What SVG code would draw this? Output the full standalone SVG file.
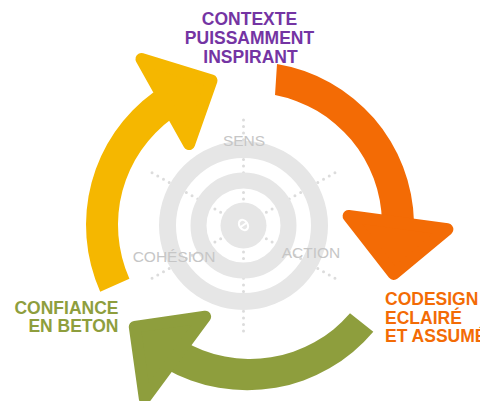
<svg xmlns="http://www.w3.org/2000/svg" width="480" height="401" viewBox="0 0 480 401">
<style>
.lbl{font-family:"Liberation Sans",Arial,sans-serif;font-weight:bold;font-size:17.5px}
.grey{font-family:"Liberation Sans",Arial,sans-serif;font-size:15.5px;fill:#c6c6c6}
.spoke{stroke:#dcdcdc;stroke-width:3;stroke-linecap:round;stroke-dasharray:0 6.6;fill:none}
.ring{fill:none;stroke:#e6e6e6}
.head{stroke-width:12;stroke-linejoin:round}
</style>
<rect width="480" height="401" fill="#fff"/>
<g id="target">
  <g id="spokes">
    <line class="spoke" x1="243.5" y1="225.5" x2="243.5" y2="119"/>
    <line class="spoke" x1="243.5" y1="225.5" x2="243.5" y2="332"/>
    <line class="spoke" x1="243.5" y1="225.5" x2="335.3" y2="172.5"/>
    <line class="spoke" x1="243.5" y1="225.5" x2="335.3" y2="278.5"/>
    <line class="spoke" x1="243.5" y1="225.5" x2="151.7" y2="278.5"/>
    <line class="spoke" x1="243.5" y1="225.5" x2="151.7" y2="172.5"/>
  </g>
  <circle class="ring" cx="243.5" cy="225.5" r="76" stroke-width="17"/>
  <circle class="ring" cx="243.5" cy="225.5" r="45" stroke-width="16"/>
  <circle cx="243.5" cy="225.5" r="23" fill="#e6e6e6"/>
  <g transform="rotate(-35 243.5 225)">
    <ellipse cx="243.5" cy="225" rx="4" ry="5.5" fill="none" stroke="#fff" stroke-width="2.2"/>
    <line x1="239.5" y1="225" x2="247.5" y2="225" stroke="#fff" stroke-width="2"/>
  </g>
  <text class="grey" x="244" y="145.5" text-anchor="middle">SENS</text>
  <text class="grey" x="174" y="261.5" text-anchor="middle">COHÉSION</text>
  <text class="grey" x="311" y="258.3" text-anchor="middle">ACTION</text>
</g>
<g id="connectors">
  <g id="arrow-yellow" fill="#f5b700" stroke="#f5b700">
    <path d="M 100.2 291.7 A 164 164 0 0 1 153.6 92.3 L 172.4 118.2 A 132 132 0 0 0 129.4 278.7 Z" stroke="none"/>
    <polygon class="head" points="141.5,59 211.5,80.5 189.1,144.1"/>
  </g>
  <g id="arrow-orange" fill="#f36b05" stroke="#f36b05">
    <path d="M 277 64 A 164 164 0 0 1 414 222.1 L 382 222.7 A 132 132 0 0 0 275 95 Z" stroke="none"/>
    <polygon class="head" points="348.6,216 447.4,229.3 393.8,274"/>
  </g>
  <g id="arrow-green" fill="#8e9e3d" stroke="#8e9e3d">
    <path d="M 373.3 331.7 A 165 165 0 0 1 165 368.4 L 182 340.1 A 132 132 0 0 0 350 313.3 Z" stroke="none"/>
    <polygon class="head" points="205.1,316.7 134.8,326.9 144.8,398.3"/>
  </g>
</g>
<g id="node-contexte" class="lbl" fill="#7434a3" text-anchor="middle">
  <text x="249.5" y="25">CONTEXTE</text>
  <text x="249.5" y="44">PUISSAMMENT</text>
  <text x="250.5" y="63">INSPIRANT</text>
</g>
<g id="node-codesign" class="lbl" fill="#f36b05">
  <text x="385" y="305">CODESIGN</text>
  <text x="385" y="323.5">ECLAIRÉ</text>
  <text x="385" y="342">ET ASSUMÉ</text>
</g>
<g id="node-confiance" class="lbl" fill="#8e9e3d" text-anchor="end">
  <text x="118.5" y="313.5">CONFIANCE</text>
  <text x="118.5" y="332">EN BETON</text>
</g>
</svg>
